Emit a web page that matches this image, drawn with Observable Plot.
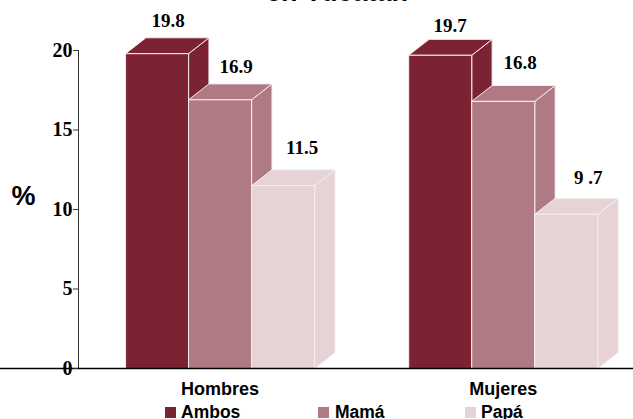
<!DOCTYPE html>
<html><head><meta charset="utf-8">
<script src="https://cdn.jsdelivr.net/npm/d3@7"></script>
<script src="https://cdn.jsdelivr.net/npm/@observablehq/plot@0.6"></script>
<style>
html,body{margin:0;padding:0;background:#fff;overflow:hidden;width:633px;height:419px}
#wrap{position:relative;width:633px;height:419px;overflow:hidden}
#title{position:absolute;left:0;width:674px;top:-23px;text-align:center;font:bold 27px/31px "Liberation Sans",sans-serif;color:#000}
#legend div{position:absolute;top:402px;font:bold 17.5px/20px "Liberation Sans",sans-serif;color:#000}
#legend i{position:absolute;top:407px;width:11px;height:11px}
svg{position:absolute;left:0;top:0}
</style></head><body>
<div id="wrap"><div id="title">en Yucatán</div><div id="chart"></div><div id="legend"></div></div>
<script>
const groups = ["Hombres", "Mujeres"];
const series = ["Ambos", "Mamá", "Papá"];
const colors = ["#7b2332", "#af7a84", "#e5d3d6"];
const hombres = [19.8, 16.9, 11.5];
const mujeres = [19.7, 16.8, 9.7];
const valueLabels = [["19.8", "16.9", "11.5"], ["19.7", "16.8", "9 .7"]];
const yTicks = [0, 5, 10, 15, 20];

// label nudges (px) relative to the bar's front-top centre
const nudges = [[[11,-33],[16,-33],[19,-38]], [[10,-29],[17,-38],[22,-36]]];
const legendPos = [[165,181],[318,335],[465,481]];

const barW = 0.2226, depthX = 0.072, depthY = 1.0, edge = "#f6eef0";
const marks = [];
[hombres, mujeres].forEach((vals, g) => {
  vals.forEach((v, s) => {
    const x1 = g + (s - 1.5) * barW, x2 = x1 + barW;
    const poly = pts => Plot.line([...pts, pts[0]], {x: d => d[0], y: d => d[1], fill: colors[s], stroke: edge, strokeWidth: 1, strokeLinejoin: "miter"});
    marks.push(poly([[x2, 0], [x2 + depthX, depthY], [x2 + depthX, v + depthY], [x2, v]]));
    marks.push(poly([[x1, v], [x1 + depthX, v + depthY], [x2 + depthX, v + depthY], [x2, v]]));
    marks.push(poly([[x1, 0], [x1, v], [x2, v], [x2, 0]]));
    marks.push(Plot.text([valueLabels[g][s]], {
      x: (x1 + x2) / 2, y: v, text: d => d, dx: nudges[g][s][0], dy: nudges[g][s][1],
      fontFamily: "Liberation Serif", fontWeight: "bold", fontSize: 19, fill: "#000"
    }));
  });
});

const plot = Plot.plot({
  width: 633, height: 400,
  marginLeft: 0, marginRight: 0, marginTop: 0, marginBottom: 0,
  style: {background: "transparent", overflow: "visible"},
  x: {domain: [-0.5, 1.46], range: [78, 633], axis: null},
  y: {domain: [0, 20], range: [368, 50], axis: null},
  marks: [
    ...marks,
    Plot.ruleX([-0.5], {y1: 0, y2: 20, stroke: "#333", strokeWidth: 1}),
    Plot.ruleY([0], {stroke: "#000", strokeWidth: 1.5}),
    Plot.axisY({ticks: yTicks, anchor: "left", x: -0.5, tickSize: 5, tickPadding: 1, label: null,
      tickFormat: d => d, fontFamily: "Liberation Serif", fontWeight: "bold", fontSize: 20, color: "#000", stroke: "#333"}),
    Plot.text(groups, {x: (d, i) => i, y: 0, text: d => d, dy: 21,
      fontFamily: "Liberation Sans", fontWeight: "bold", fontSize: 18, fill: "#000"}),
    Plot.text(["%"], {frameAnchor: "left", y: 10.8, dx: 11, text: d => d,
      fontFamily: "Liberation Sans", fontWeight: "bold", fontSize: 27, fill: "#000"})
  ]
});
document.getElementById("chart").append(plot);

const lg = document.getElementById("legend");
series.forEach((s, i) => {
  const sw = document.createElement("i");
  sw.style.left = legendPos[i][0] + "px"; sw.style.background = colors[i];
  const t = document.createElement("div");
  t.style.left = legendPos[i][1] + "px"; t.textContent = s;
  lg.append(sw, t);
});
</script>
</body></html>
